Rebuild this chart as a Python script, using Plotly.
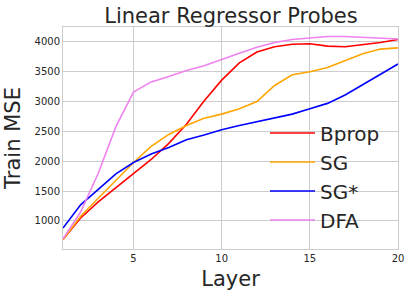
import plotly.graph_objects as go

layers = list(range(1, 21))
bprop = [690, 1050, 1320, 1560, 1790, 2030, 2300, 2620, 3010, 3360, 3650, 3830, 3920, 3960, 3970, 3930, 3920, 3950, 3990, 4040]
sg = [690, 1080, 1380, 1680, 1980, 2250, 2450, 2600, 2720, 2790, 2880, 3000, 3270, 3450, 3500, 3570, 3690, 3800, 3880, 3900]
sg_star = [880, 1270, 1530, 1790, 1980, 2120, 2230, 2360, 2440, 2530, 2600, 2660, 2730, 2790, 2880, 2970, 3110, 3280, 3460, 3630]
dfa = [700, 1150, 1800, 2580, 3160, 3330, 3420, 3520, 3600, 3710, 3810, 3910, 3990, 4040, 4070, 4090, 4090, 4080, 4060, 4050]

series = [("Bprop", bprop, "red"), ("SG", sg, "orange"), ("SG*", sg_star, "blue"), ("DFA", dfa, "violet")]

fig = go.Figure()
for name, vals, color in series:
    fig.add_trace(go.Scatter(x=layers, y=vals, mode="lines", name=name,
                             line=dict(color=color, width=1.6)))

fig.update_layout(
    width=411, height=298,
    margin=dict(l=63, r=13, t=27, b=49, autoexpand=False),
    paper_bgcolor="white", plot_bgcolor="white",
    font=dict(family="DejaVu Sans", color="#262626"),
    title=dict(text="Linear Regressor Probes", x=0.562, xanchor="center", y=0.949, yanchor="middle",
               font=dict(size=21, color="#262626")),
    legend=dict(x=0.603, y=0.0425, xanchor="left", yanchor="bottom",
                font=dict(size=20, color="#262626"), bgcolor="rgba(0,0,0,0)",
                tracegroupgap=0, itemwidth=45),
    showlegend=True,
)
fig.update_xaxes(range=[1, 20], tickvals=[5, 10, 15, 20], showgrid=True, gridcolor="#cccccc",
                 gridwidth=1, showline=True, linecolor="#cccccc", mirror=True, zeroline=False,
                 ticks="", tickfont=dict(size=10, color="#262626"), automargin=False,
                 title=dict(text="Layer", font=dict(size=21, color="#262626"), standoff=8))
fig.update_yaxes(range=[530, 4250], tickvals=[1000, 1500, 2000, 2500, 3000, 3500, 4000], showgrid=True,
                 gridcolor="#cccccc", gridwidth=1, showline=True, linecolor="#cccccc", mirror=True,
                 zeroline=False, ticks="", tickfont=dict(size=10, color="#262626"), automargin=False,
                 title=dict(text="Train MSE", font=dict(size=21, color="#262626"), standoff=8))

# remove the browser's default 8px body margin so the figure fills the window exactly
fig.write_html("out.html", config={"displayModeBar": False},
               post_script="document.body.style.margin='0';")
